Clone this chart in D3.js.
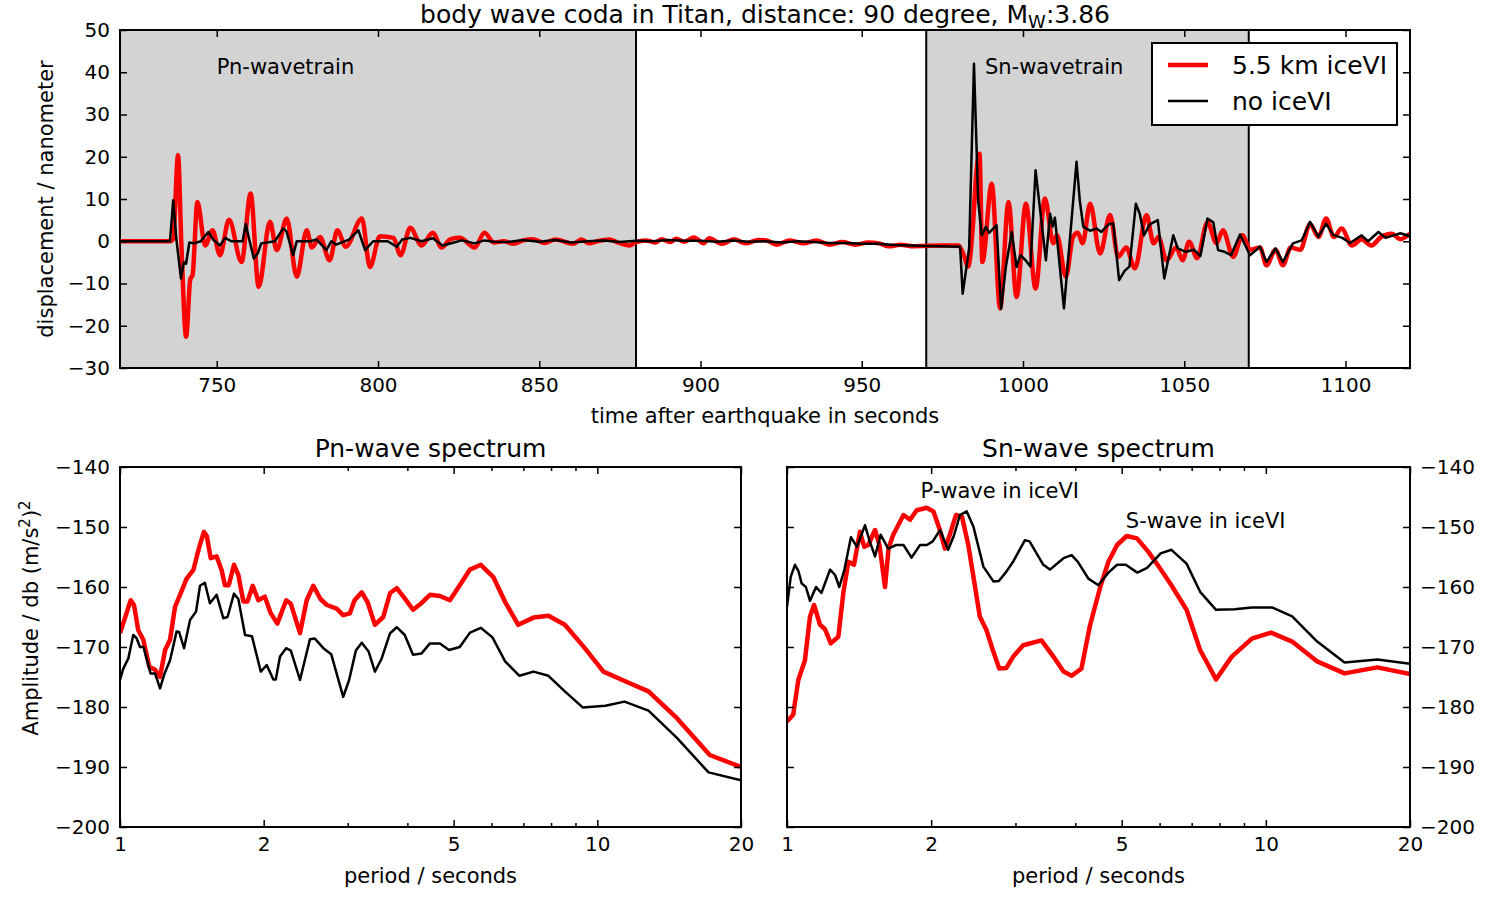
<!DOCTYPE html>
<html>
<head>
<meta charset="utf-8">
<script src="https://cdnjs.cloudflare.com/ajax/libs/d3/7.8.5/d3.min.js"></script>
<style>
  body { margin: 0; background: #fff; }
  svg { font-family: 'DejaVu Sans', sans-serif; }
</style>
</head>
<body>
<svg width="1500" height="900"></svg>
<script>
// Seismogram, [time in s, displacement in nm]
const redTrace = [
  [720,0],[735.5,0],[736.5,0.5],[738,20.4],[739,0],[740.5,-22.6],[741.8,-9],[742.5,-8],[744,9.3],
  [746.4,-1],[748.7,2.6],[751,-3.3],[753.8,5.1],[757.7,-4.9],[760.5,11.3],[763,-10.8],[766.5,4.6],
  [768.6,-2.1],[771.7,5.4],[774.8,-8.4],[777.9,2.6],[779.5,-1.5],[782,1],[785,-4.5],[787.4,2.6],
  [790,-1.3],[795,5.4],[797.5,-6.1],[800.6,1.2],[804.8,0.8],[807,-3.3],[810,3.2],[813.5,-1],
  [817,2],[819.7,-1.5],[822.5,0.5],[825.4,0.8],[830,-1.5],[833,2],[836,-0.3],[839,0],[842,-0.6],
  [845,0.2],[848,0.5],[851.6,-0.4],[855,0.4],[860.5,-0.6],[863,0.4],[865.5,-0.5],[868,0],
  [871.7,0.4],[874.8,-0.4],[878,-1],[880,-0.2],[883,0.2],[886,-0.3],[888,0.5],[890.5,-0.2],
  [892.5,0.6],[895,-0.1],[898,0.9],[901,-0.5],[902.6,0.7],[906.7,-0.6],[910.3,0.5],[914,-0.5],
  [918,0.3],[920.5,0.2],[923.6,-0.8],[927.7,0.2],[932,-0.5],[935.9,0.2],[940,-0.8],[944,-0.2],
  [948,-0.8],[952,-0.3],[955.4,-0.5],[958.5,-1.2],[962,-0.8],[966,-1.2],[969,-1.1],[975,-1.0],
  [980,-1.0],[981.5,-3],[983,-6],[984.5,4],[985.5,16],[986.5,20.7],[987.4,-4.9],[990.3,13.6],
  [992.9,-15.9],[995.5,9.3],[998,-13.2],[1000.9,8.9],[1003.9,-11.2],[1006.8,10.1],[1009.4,-0.5],
  [1010.5,1.5],[1013.3,-8.4],[1015.5,1],[1017,2],[1018.5,-0.5],[1020.8,8.9],[1023.9,-2.9],
  [1027,6.2],[1029.5,-3.7],[1032,-1.5],[1034.7,-6.4],[1038.3,6.2],[1040.5,-0.5],[1042,1],
  [1044.5,-4.5],[1047.5,-1.5],[1049.5,-4.5],[1051.5,-0.1],[1054,-4],[1057.2,4.5],[1060,-0.5],
  [1062,2.6],[1065.2,-3.7],[1068,1.4],[1070.5,-2],[1073.5,-1.5],[1075.5,-5.7],[1078.3,-2],
  [1080.6,-5.7],[1083,-1.5],[1086,-2],[1089,4.1],[1091.6,1],[1094,5.4],[1096.4,1],[1098.8,3],
  [1102,-1],[1105,0.5],[1108,-1],[1111,1],[1114.3,1.8],[1117,0.5],[1120,1.8]
]
const blackTrace = [
  [720,0],[735.5,0],[736.5,9.7],[737.5,0.4],[738.9,-8.8],[739.8,-5],[740.5,-5.3],[741.5,-0.3],
  [743,-0.5],[745,0],[747.4,2.2],[749,0.3],[751,-1],[752.6,0.8],[754.5,0],[758,0],[759,4.1],
  [760.2,0],[761.5,-4.1],[762.7,-2.9],[763.8,-0.5],[768,0],[770.6,3],[771.6,2.4],[773.7,-3.3],
  [774.8,0],[779,0],[781,0.4],[784,-2.1],[785.5,0],[787,-0.8],[791,0.4],[793.9,2.6],[796,-2.1],
  [798.5,0],[803,0],[805.8,-1.3],[807.5,0.4],[810,0.8],[813.5,0],[817,0.7],[820,-1],[823,-0.4],
  [826,0.2],[830,-0.5],[833,0.2],[836,-0.1],[840,-0.2],[845,0.3],[850,-0.1],[855,0.3],[860,-0.3],
  [865,0],[870,0.2],[875,-0.2],[880,0.1],[885,0],[890,0.3],[895,0.1],[900,0.1],[905,-0.1],
  [910,0.2],[915,-0.1],[920,0],[925,-0.3],[930,0],[935,-0.2],[940,-0.4],[945,-0.4],[950,-0.6],
  [955,-0.6],[960,-0.9],[965,-1.0],[970,-1.1],[980.5,-1.3],[981.3,-12.4],[983.3,-1.6],[984.8,42],
  [986.1,9.7],[987.2,1.4],[988.5,3.4],[989.5,2],[991.8,3.8],[993.2,-16],[994.7,-6],[996.5,2.2],
  [998,-6.1],[999.2,-3.3],[1000.8,-4.5],[1002.3,-6],[1003.9,16.8],[1007.1,-4.5],[1008.4,6.5],
  [1009.2,3.5],[1009.9,5.6],[1012.7,-15.9],[1016.6,18.8],[1017.6,9.7],[1018.7,3.4],[1020.8,2.5],
  [1022.8,3],[1024.3,2.2],[1026.5,4],[1028,4.2],[1029.8,-9.2],[1031.5,-7],[1033,-6],[1035,8.9],
  [1036.2,6.5],[1037.5,1.4],[1039.3,4],[1041.8,5],[1043.8,-8.8],[1046.6,1.4],[1048,-1.7],
  [1050.5,-2.5],[1053,-2],[1055,-3.5],[1057.2,5.4],[1059,4.5],[1060.5,-2.1],[1062.5,-2.5],
  [1064.5,-3.3],[1067.3,1.6],[1070.4,-3.3],[1073.5,-1.3],[1075.5,-4.9],[1078.3,-1.7],
  [1080.6,-4.9],[1083.7,-0.5],[1086.4,0.2],[1089,4.6],[1091.6,1.1],[1094,4.1],[1096.2,1.5],
  [1099,0.8],[1101.4,-0.4],[1105,1.4],[1107,0],[1110.2,2.2],[1112.4,0.8],[1115,1.4],[1117,1.9],
  [1120,1.2]
]
const pnWindow = [720, 880]
const snWindow = [970, 1070]

// Spectra, [period in s, amplitude in db]
const pnRed = [
  [1.0,-167.7],[1.053,-162.2],[1.07,-163],[1.092,-167.2],[1.119,-168.8],[1.152,-173.3],[1.184,-173.8],
  [1.213,-175],[1.243,-170.5],[1.273,-168.8],[1.304,-163.3],[1.336,-161.3],[1.379,-158.6],
  [1.424,-157.2],[1.466,-153.3],[1.499,-150.8],[1.52,-151.5],[1.549,-155.2],[1.594,-154.9],
  [1.633,-157.2],[1.659,-159.7],[1.69,-159.7],[1.733,-156.3],[1.77,-158],[1.813,-162.4],
  [1.85,-162.4],[1.897,-159.8],[1.949,-162.2],[2.01,-161.6],[2.07,-164.4],[2.136,-166.1],
  [2.229,-162.2],[2.28,-162.8],[2.383,-167.7],[2.461,-162.2],[2.541,-159.8],[2.63,-162],
  [2.713,-163],[2.844,-163.6],[2.935,-164.7],[3.03,-164.4],[3.1,-162.2],[3.21,-160.9],[3.3,-162.5],
  [3.42,-166.3],[3.56,-165],[3.68,-161],[3.8,-160.2],[3.95,-161.9],[4.11,-163.8],[4.28,-162.7],
  [4.46,-161.3],[4.68,-161.5],[4.91,-162.2],[5.15,-159.7],[5.41,-157.1],[5.7,-156.3],[6.05,-158.3],
  [6.43,-162.7],[6.83,-166.3],[7.35,-165.1],[7.9,-164.8],[8.55,-166.3],[9.35,-169.9],[10.3,-174.1],
  [11.5,-175.8],[12.8,-177.4],[14.7,-181.9],[17.2,-188],[20,-190]
]
const pnBlack = [
  [1.0,-175.5],[1.016,-173.6],[1.041,-171.9],[1.066,-168],[1.083,-168.5],[1.101,-170],[1.12,-170],
  [1.141,-172.4],[1.159,-174.4],[1.184,-174.4],[1.213,-176.9],[1.24,-174.4],[1.273,-172.2],
  [1.314,-167.4],[1.33,-167.5],[1.362,-170.2],[1.402,-165.5],[1.443,-164.1],[1.471,-159.8],
  [1.506,-159.3],[1.543,-162.7],[1.594,-161.3],[1.646,-165.2],[1.68,-165],[1.733,-161.1],
  [1.77,-162],[1.828,-168],[1.89,-168.2],[1.972,-174.1],[2.03,-173],[2.095,-175.4],[2.12,-175.4],
  [2.164,-171.6],[2.229,-170.2],[2.28,-170.6],[2.383,-175.5],[2.5,-168.7],[2.56,-168.6],
  [2.667,-170.2],[2.77,-171.2],[2.935,-178.3],[3.02,-175.5],[3.12,-170.6],[3.21,-169.3],
  [3.32,-170.8],[3.42,-174.1],[3.53,-172],[3.68,-167.7],[3.8,-166.7],[3.95,-168],[4.11,-171.3],
  [4.28,-171.1],[4.46,-169.4],[4.68,-169.4],[4.89,-170.5],[5.15,-170],[5.41,-167.6],[5.7,-166.8],
  [6.03,-168.4],[6.41,-172.4],[6.87,-174.8],[7.35,-174.1],[7.9,-174.8],[8.55,-177.4],[9.33,-180.1],
  [10.4,-179.8],[11.4,-179.1],[12.8,-180.6],[14.7,-185.2],[17.1,-190.9],[20,-192.2]
]
const snRed = [
  [1.0,-182.4],[1.03,-181.3],[1.056,-175.5],[1.09,-172.2],[1.117,-164.9],[1.139,-163],[1.172,-166.3],
  [1.2,-167],[1.234,-169.4],[1.28,-168.3],[1.311,-161],[1.343,-155.8],[1.38,-156.3],[1.42,-150.8],
  [1.45,-153.3],[1.478,-153],[1.527,-150.5],[1.56,-153],[1.602,-160],[1.63,-153.5],[1.667,-151.3],
  [1.751,-148],[1.807,-148.8],[1.866,-147.2],[1.958,-146.8],[2.022,-147.4],[2.08,-150.2],
  [2.137,-153.6],[2.19,-151.2],[2.254,-148],[2.32,-148.3],[2.391,-153],[2.467,-159.7],
  [2.527,-164.9],[2.61,-167.2],[2.69,-170.5],[2.775,-173.6],[2.87,-173.5],[2.968,-171.6],
  [3.113,-169.7],[3.4,-168.9],[3.6,-171.6],[3.78,-174.1],[3.93,-174.8],[4.12,-173.6],[4.29,-166.5],
  [4.51,-160],[4.69,-155.8],[4.89,-153],[5.12,-151.5],[5.38,-151.9],[5.68,-154.1],[6.0,-156.8],
  [6.35,-159.7],[6.83,-163.8],[7.29,-170.5],[7.87,-175.4],[8.49,-171.6],[9.35,-168.6],
  [10.25,-167.6],[11.35,-169.1],[12.8,-172.4],[14.6,-174.4],[17.1,-173.4],[20,-174.5]
]
const snBlack = [
  [1.0,-163.3],[1.018,-158.3],[1.039,-156.3],[1.056,-157.3],[1.073,-159.4],[1.095,-160],
  [1.117,-162.3],[1.15,-160],[1.18,-161],[1.23,-157.1],[1.26,-158],[1.286,-160],[1.318,-157.1],
  [1.36,-151.7],[1.4,-153.3],[1.455,-149.7],[1.49,-152.5],[1.527,-154.9],[1.569,-151.3],
  [1.627,-153.6],[1.69,-153],[1.751,-153],[1.82,-155.1],[1.896,-153],[1.96,-153],[2.015,-152.4],
  [2.088,-150.5],[2.17,-153.8],[2.23,-151.5],[2.297,-148],[2.373,-147.4],[2.45,-149.9],
  [2.571,-156.6],[2.7,-159.1],[2.77,-159],[2.874,-157.4],[2.97,-155.7],[3.14,-152.2],[3.21,-152.4],
  [3.43,-156.3],[3.54,-157.1],[3.78,-155.2],[3.93,-154.7],[4.05,-155.8],[4.26,-158.6],[4.47,-159.7],
  [4.69,-157.6],[4.89,-156.3],[5.1,-156.3],[5.39,-157.6],[5.65,-156.8],[6.03,-154.4],[6.35,-153.8],
  [6.83,-156.1],[7.29,-160.8],[7.87,-163.8],[8.6,-163.7],[9.35,-163.4],[10.3,-163.4],
  [11.35,-164.9],[12.8,-169.1],[14.6,-172.6],[17.1,-172.1],[20,-172.8]
]

// Ticks
const timeTicks = [750, 800, 850, 900, 950, 1000, 1050, 1100]
const dispTicks = [-30, -20, -10, 0, 10, 20, 30, 40, 50]
const periodTicks = [1, 2, 5, 10, 20]
const periodMinor = [3, 4, 6, 7, 8, 9]
const dbTicks = [-200, -190, -180, -170, -160, -150, -140]

const svg = d3.select('svg')
const RED = '#ff0000'

//--- top panel
const tp = {left: 120, right: 1410, top: 30, bottom: 368}
const x = d3.scaleLinear().domain([720, 1120]).range([tp.left, tp.right])
const y = d3.scaleLinear().domain([-30, 50]).range([tp.bottom, tp.top])

svg.append('clipPath').attr('id', 'clipTop')
  .append('rect').attr('x', tp.left).attr('y', tp.top)
  .attr('width', tp.right - tp.left).attr('height', tp.bottom - tp.top)

const topG = svg.append('g')
topG.selectAll('.span')
  .data([pnWindow, snWindow])
  .enter().append('rect')
  .attr('x', d => x(d[0])).attr('y', tp.top)
  .attr('width', d => x(d[1]) - x(d[0])).attr('height', tp.bottom - tp.top)
  .attr('fill', '#d3d3d3')
topG.selectAll('.edge')
  .data([pnWindow[1], snWindow[0], snWindow[1]])
  .enter().append('line')
  .attr('x1', d => x(d)).attr('x2', d => x(d))
  .attr('y1', tp.top).attr('y2', tp.bottom)
  .attr('stroke', '#000').attr('stroke-width', 2)

const seisLine = d3.line().x(d => x(d[0])).y(d => y(d[1]))
topG.append('path').datum(redTrace)
  .attr('clip-path', 'url(#clipTop)')
  .attr('d', seisLine.curve(d3.curveMonotoneX))
  .attr('fill', 'none').attr('stroke', RED).attr('stroke-width', 4.5)
  .attr('stroke-linejoin', 'round')
topG.append('path').datum(blackTrace)
  .attr('clip-path', 'url(#clipTop)')
  .attr('d', seisLine.curve(d3.curveLinear))
  .attr('fill', 'none').attr('stroke', '#000').attr('stroke-width', 2.5)
  .attr('stroke-linejoin', 'round')

topG.append('text').attr('x', x(750)).attr('y', y(39.5))
  .attr('font-size', 21).text('Pn-wavetrain')
topG.append('text').attr('x', x(988.2)).attr('y', y(39.5))
  .attr('font-size', 21).text('Sn-wavetrain')

drawAxes(tp, x, y, timeTicks, [], dispTicks, 'left')

// legend
const leg = svg.append('g')
leg.append('rect').attr('x', 1152).attr('y', 43).attr('width', 245).attr('height', 82)
  .attr('fill', '#fff').attr('stroke', '#000').attr('stroke-width', 2)
const legItems = [
  {label: '5.5 km iceVI', color: RED, w: 4.5},
  {label: 'no iceVI', color: '#000', w: 2.5}
]
legItems.forEach((d, i) => {
  const ly = 65 + i * 36
  leg.append('line').attr('x1', 1168).attr('x2', 1208).attr('y1', ly).attr('y2', ly)
    .attr('stroke', d.color).attr('stroke-width', d.w)
  leg.append('text').attr('x', 1232).attr('y', ly + 9).attr('font-size', 25).text(d.label)
})

// title and labels
const title = svg.append('text').attr('x', 765).attr('y', 23)
  .attr('text-anchor', 'middle').attr('font-size', 25)
title.append('tspan').text('body wave coda in Titan, distance: 90 degree, M')
title.append('tspan').attr('font-size', 18).attr('dy', 5).text('W')
title.append('tspan').attr('dy', -5).text(':3.86')

svg.append('text').attr('x', 765).attr('y', 423).attr('text-anchor', 'middle')
  .attr('font-size', 21).text('time after earthquake in seconds')
svg.append('text').attr('transform', 'translate(53,199) rotate(-90)')
  .attr('text-anchor', 'middle').attr('font-size', 21).text('displacement / nanometer')

//--- spectra
const bl = {left: 120, right: 741, top: 467, bottom: 827}
const br = {left: 787, right: 1410, top: 467, bottom: 827}
drawSpectrum(bl, pnRed, pnBlack, 'Pn-wave spectrum', 'left', 'clipBL')
drawSpectrum(br, snRed, snBlack, 'Sn-wave spectrum', 'right', 'clipBR')

const xr = d3.scaleLog().domain([1, 20]).range([br.left, br.right])
const yr = d3.scaleLinear().domain([-200, -140]).range([br.bottom, br.top])
svg.append('text').attr('x', xr(1.9)).attr('y', yr(-145.2)).attr('font-size', 21).text('P-wave in iceVI')
svg.append('text').attr('x', xr(5.1)).attr('y', yr(-150.2)).attr('font-size', 21).text('S-wave in iceVI')

const yl = svg.append('text').attr('transform', 'translate(38,618) rotate(-90)')
  .attr('text-anchor', 'middle').attr('font-size', 21)
yl.append('tspan').text('Amplitude / db (m/s')
yl.append('tspan').attr('font-size', 15).attr('dy', -8).text('2')
yl.append('tspan').attr('dy', 8).text(')')
yl.append('tspan').attr('font-size', 15).attr('dy', -8).text('2')

function drawSpectrum(p, redData, blackData, name, ySide, clipId) {
  const sx = d3.scaleLog().domain([1, 20]).range([p.left, p.right])
  const sy = d3.scaleLinear().domain([-200, -140]).range([p.bottom, p.top])
  svg.append('clipPath').attr('id', clipId)
    .append('rect').attr('x', p.left).attr('y', p.top)
    .attr('width', p.right - p.left).attr('height', p.bottom - p.top)
  const line = d3.line().x(d => sx(d[0])).y(d => sy(d[1]))
  svg.append('path').datum(redData).attr('clip-path', `url(#${clipId})`)
    .attr('d', line).attr('fill', 'none').attr('stroke', RED)
    .attr('stroke-width', 4.5).attr('stroke-linejoin', 'round')
  svg.append('path').datum(blackData).attr('clip-path', `url(#${clipId})`)
    .attr('d', line).attr('fill', 'none').attr('stroke', '#000')
    .attr('stroke-width', 2.5).attr('stroke-linejoin', 'round')
  drawAxes(p, sx, sy, periodTicks, periodMinor, dbTicks, ySide)
  const cx = (p.left + p.right) / 2
  svg.append('text').attr('x', cx).attr('y', 457).attr('text-anchor', 'middle')
    .attr('font-size', 25).text(name)
  svg.append('text').attr('x', cx).attr('y', 883).attr('text-anchor', 'middle')
    .attr('font-size', 21).text('period / seconds')
}

// frame with inward ticks on all four sides, labels on bottom and ySide
function drawAxes(p, sx, sy, xTicks, xMinor, yTicks, ySide) {
  const w = p.right - p.left, h = p.bottom - p.top
  const fmt = d3.format('d')
  const style = g => {
    g.select('.domain').remove()
    g.selectAll('line').attr('stroke', '#000').attr('stroke-width', 1.5)
    g.selectAll('text').attr('font-size', 20).attr('font-family', 'DejaVu Sans').attr('fill', '#000')
  }
  svg.append('g').attr('transform', `translate(0,${p.bottom})`)
    .call(d3.axisBottom(sx).tickValues(xTicks).tickFormat(fmt).tickSizeInner(-7).tickSizeOuter(0).tickPadding(10))
    .call(style)
  svg.append('g').attr('transform', `translate(0,${p.top})`)
    .call(d3.axisTop(sx).tickValues(xTicks).tickFormat('').tickSizeInner(-7).tickSizeOuter(0))
    .call(style)
  if (xMinor.length) {
    svg.append('g').attr('transform', `translate(0,${p.bottom})`)
      .call(d3.axisBottom(sx).tickValues(xMinor).tickFormat('').tickSizeInner(-4).tickSizeOuter(0))
      .call(style)
    svg.append('g').attr('transform', `translate(0,${p.top})`)
      .call(d3.axisTop(sx).tickValues(xMinor).tickFormat('').tickSizeInner(-4).tickSizeOuter(0))
      .call(style)
  }
  svg.append('g').attr('transform', `translate(${p.left},0)`)
    .call(d3.axisLeft(sy).tickValues(yTicks).tickFormat(ySide === 'left' ? fmt : '')
      .tickSizeInner(-7).tickSizeOuter(0).tickPadding(10))
    .call(style)
  svg.append('g').attr('transform', `translate(${p.right},0)`)
    .call(d3.axisRight(sy).tickValues(yTicks).tickFormat(ySide === 'right' ? fmt : '')
      .tickSizeInner(-7).tickSizeOuter(0).tickPadding(10))
    .call(style)
  svg.append('rect').attr('x', p.left).attr('y', p.top).attr('width', w).attr('height', h)
    .attr('fill', 'none').attr('stroke', '#000').attr('stroke-width', 2)
}
</script>
</body>
</html>
